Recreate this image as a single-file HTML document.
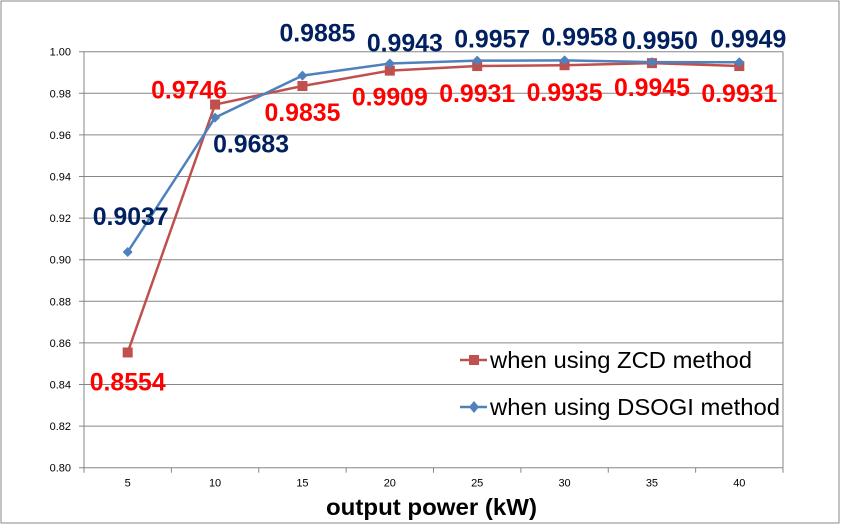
<!DOCTYPE html>
<html><head><meta charset="utf-8"><style>
body{margin:0;background:#fff}
svg{display:block;font-family:"Liberation Sans",sans-serif}
</style></head><body>
<svg id="chart" width="841" height="525">
<rect x="1" y="1" width="838" height="522" fill="#fff" stroke="#888" stroke-width="1"/>
<g id="grid"></g><g id="axes"></g><g id="series"></g><g id="labels"></g>
<text x="326" y="515" textLength="211" lengthAdjust="spacingAndGlyphs" font-size="23" font-weight="bold" fill="#000">output power (kW)</text>
<g>
<g>
<line x1="460" y1="360" x2="487" y2="360" stroke="#C0504D" stroke-width="2.5"/>
<rect x="469" y="355" width="10" height="10" fill="#C0504D"/>
<text x="490" y="368" textLength="262" lengthAdjust="spacingAndGlyphs" font-size="23" fill="#000">when using ZCD method</text></g>
<g>
<line x1="460" y1="407" x2="487" y2="407" stroke="#4F81BD" stroke-width="2.5"/>
<path d="M474 401 L479 407 L474 413 L469 407Z" fill="#4F81BD"/>
<text x="490" y="415" textLength="290" lengthAdjust="spacingAndGlyphs" font-size="23" fill="#000">when using DSOGI method</text></g>
</g>
</svg>
<script>
const categories=[5,10,15,20,25,30,35,40];
const zcdValues=[0.8554,0.9746,0.9835,0.9909,0.9931,0.9935,0.9945,0.9931];
const dsogiValues=[0.9037,0.9683,0.9885,0.9943,0.9957,0.9958,0.9950,0.9949];
const yTicks=[0.80,0.82,0.84,0.86,0.88,0.90,0.92,0.94,0.96,0.98,1.00];
const zcdLabelOff=[[0,29],[-26,-15],[0,26],[0,26],[0,27],[0,27],[0,24],[0,27]];
const dsogiLabelOff=[[3,-36],[36,26],[15,-43],[15,-21],[15,-22],[15,-24],[8,-22],[9,-24]];
const NS="http://www.w3.org/2000/svg";
const L=84,R=783,T=51.7,B=467.7,ymin=0.80,ymax=1.00;
const bw=(R-L)/categories.length;
const xs=i=>L+bw*(i+0.5);
const ys=v=>B-(v-ymin)/(ymax-ymin)*(B-T);
function mk(tag,attrs,parent){const e=document.createElementNS(NS,tag);for(const k in attrs)e.setAttribute(k,attrs[k]);parent.appendChild(e);return e;}
const grid=document.getElementById('grid'),axes=document.getElementById('axes'),series=document.getElementById('series'),labels=document.getElementById('labels');
yTicks.forEach(t=>{
 const y=ys(t);
 const g=mk('line',{x1:L-5,x2:R,y1:y,y2:y,stroke:'#868686','stroke-width':1},grid);
 
 
 const tx=mk('text',{x:L-13,y:y+4,'text-anchor':'end','font-size':11,fill:'#000'},axes);
 tx.textContent=t.toFixed(2);
 
 
});
const ya=mk('line',{x1:L,x2:L,y1:T,y2:B,stroke:'#868686'},axes);


const rb=mk('line',{x1:R,x2:R,y1:T,y2:B,stroke:'#868686'},axes);


for(let i=0;i<=categories.length;i++){
 const x=L+bw*i;
 const tk=mk('line',{x1:x,x2:x,y1:B,y2:B+5,stroke:'#868686'},axes);
 
 
}
categories.forEach((c,i)=>{
 const t=mk('text',{x:xs(i),y:B+19,'text-anchor':'middle','font-size':11,fill:'#000'},axes);
 t.textContent=c;
 
 
});
function drawSeries(vals,color,marker,name){
 const p=mk('polyline',{points:vals.map((v,i)=>xs(i)+','+ys(v)).join(' '),fill:'none',stroke:color,'stroke-width':2.5},series);
 
 
 vals.forEach((v,i)=>{
  const x=xs(i),y=ys(v);let m;
  if(marker==='sq')m=mk('rect',{x:x-5,y:y-5,width:10,height:10,fill:color},series);
  else m=mk('path',{d:`M${x} ${y-5}L${x+5} ${y}L${x} ${y+5}L${x-5} ${y}Z`,fill:color},series);
  
  
 });
}
drawSeries(zcdValues,'#C0504D','sq','zcd');
drawSeries(dsogiValues,'#4F81BD','dia','dsogi');
function drawLabels(vals,off,color,name){
 vals.forEach((v,i)=>{
  const t=mk('text',{x:xs(i)+off[i][0]-38,y:ys(v)+off[i][1]+9,textLength:76,lengthAdjust:'spacingAndGlyphs','font-size':25,'font-weight':'bold',fill:color},labels);
  t.textContent=v.toFixed(4);
  
  
 });
}
drawLabels(zcdValues,zcdLabelOff,'#FF0000','zcd');
drawLabels(dsogiValues,dsogiLabelOff,'#002060','dsogi');
</script>
</body></html>
